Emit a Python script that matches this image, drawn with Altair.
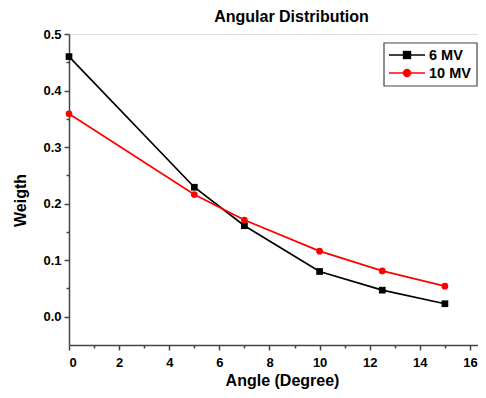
import altair as alt
import pandas as pd

angles = [0, 5, 7, 10, 12.5, 15]
mv6 = [0.46, 0.229, 0.161, 0.080, 0.047, 0.023]
mv10 = [0.359, 0.216, 0.171, 0.116, 0.081, 0.054]
series_names = ["6 MV", "10 MV"]
series_colors = ["#000000", "#ff0000"]
series_shapes = ["square", "circle"]

x_major = [0, 2, 4, 6, 8, 10, 12, 14, 16]
x_minor = [1, 3, 5, 7, 9, 11, 13, 15]
y_major = [0.0, 0.1, 0.2, 0.3, 0.4, 0.5]
y_minor = [0.05, 0.15, 0.25, 0.35, 0.45]

rows = []
for a, v in zip(angles, mv6):
    rows.append({"angle": a, "w": v, "series": "6 MV"})
for a, v in zip(angles, mv10):
    rows.append({"angle": a, "w": v, "series": "10 MV"})
df = pd.DataFrame(rows)

FONT = "Liberation Sans"
AX = "#444444"
LABEL_SIZE = 13

xscale = alt.Scale(domain=[0, 16.32], nice=False, zero=False)
yscale = alt.Scale(domain=[-0.05, 0.5], nice=False, zero=False)

common = dict(
    grid=False, domainColor=AX, tickColor=AX, domainWidth=1.5, tickWidth=1.5,
    labelFont=FONT, labelFontSize=LABEL_SIZE, labelFontWeight="bold", labelColor="#000",
    titleFont=FONT, titleFontSize=16, titleFontWeight="bold", titleColor="#000",
    labelOverlap=False,
)
x_axis = alt.Axis(values=x_major, format="d", tickSize=5, title="Angle (Degree)",
                  orient="bottom", labelPadding=6, titlePadding=3, titleX=213, **common)
y_axis = alt.Axis(values=y_major, format=".1f", tickSize=5, title="Weigth",
                  orient="left", labelPadding=3, titlePadding=14, titleY=166, **common)
x_axis_minor = alt.Axis(values=x_minor, tickSize=3, labels=False, domain=False, title=None,
                        orient="bottom", grid=False, tickColor=AX, tickWidth=1.5)
y_axis_minor = alt.Axis(values=y_minor, tickSize=3, labels=False, domain=False, title=None,
                        orient="left", grid=False, tickColor=AX, tickWidth=1.5)

color_scale = alt.Scale(domain=series_names, range=series_colors)
shape_scale = alt.Scale(domain=series_names, range=series_shapes)

base = alt.Chart(df)
lines = base.mark_line(strokeWidth=1.7).encode(
    x=alt.X("angle:Q", scale=xscale, axis=x_axis),
    y=alt.Y("w:Q", scale=yscale, axis=y_axis),
    color=alt.Color("series:N", scale=color_scale, legend=None),
    detail="series:N",
)
points = base.mark_point(filled=True, size=45, opacity=1).encode(
    x=alt.X("angle:Q", scale=xscale, axis=None),
    y=alt.Y("w:Q", scale=yscale, axis=None),
    color=alt.Color("series:N", scale=color_scale, legend=None),
    shape=alt.Shape("series:N", scale=shape_scale, legend=None),
)
minor_x = base.mark_point(opacity=0).encode(
    x=alt.X("angle:Q", scale=xscale, axis=x_axis_minor),
    y=alt.Y("w:Q", scale=yscale, axis=None),
)
minor_y = base.mark_point(opacity=0).encode(
    x=alt.X("angle:Q", scale=xscale, axis=None),
    y=alt.Y("w:Q", scale=yscale, axis=y_axis_minor),
)

# manual legend
LX = -4
box_df = pd.DataFrame({"k": [0]})
legend_layers = [
    alt.Chart(box_df).mark_rect(fill="white", stroke=AX, strokeWidth=1.2).encode(
        x=alt.value(319 + LX), x2=alt.value(412 + LX), y=alt.value(9), y2=alt.value(52)
    )
]
for i, (name, col, shp) in enumerate(zip(series_names, series_colors, series_shapes)):
    ldf = pd.DataFrame({"label": [name]})
    yy = 21 + 18 * i
    legend_layers.append(
        alt.Chart(ldf).mark_rule(color=col, strokeWidth=1.7).encode(
            x=alt.value(324 + LX), x2=alt.value(360 + LX), y=alt.value(yy)
        )
    )
    legend_layers.append(
        alt.Chart(ldf).mark_point(filled=True, color=col, shape=shp, size=70, opacity=1).encode(
            x=alt.value(342 + LX), y=alt.value(yy)
        )
    )
    legend_layers.append(
        alt.Chart(ldf).mark_text(
            align="left", baseline="middle", font=FONT, fontSize=14.5, fontWeight="bold", color="#000"
        ).encode(x=alt.value(364 + LX), y=alt.value(yy + 1), text="label:N")
    )

chart = alt.layer(lines, points, minor_x, minor_y, *legend_layers).resolve_axis(
    x="independent", y="independent"
).properties(
    width=409,
    height=311,
    title=alt.TitleParams(
        "Angular Distribution", font=FONT, fontSize=16, fontWeight="bold",
        color="#000", anchor="middle", dx=18, offset=3,
    ),
    autosize=alt.AutoSizeParams(type="none"),
    padding={"left": 61, "top": 26, "right": 0, "bottom": 45},
).configure_axis(
    labelFont=FONT, labelFontSize=LABEL_SIZE, labelFontWeight="bold", labelColor="#000"
).configure_view(stroke=None).configure(background="white")

chart.save("out.html", embed_options={"renderer": "svg", "actions": False})
